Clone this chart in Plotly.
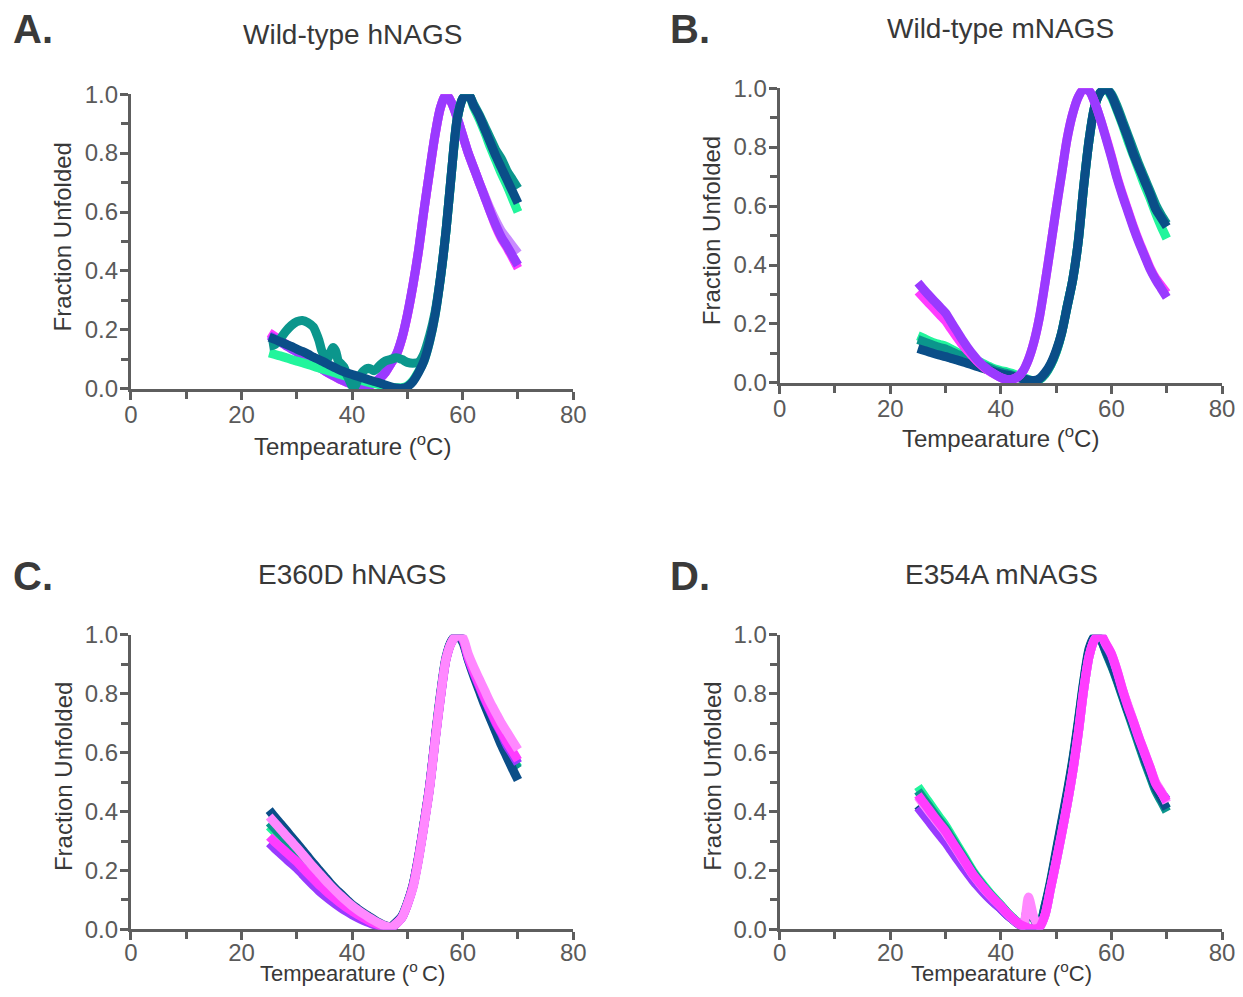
import plotly.graph_objects as go

# ---------------- data ----------------
T = [25, 26, 27, 28, 29, 30, 31, 32, 33, 34,
     35, 36, 37, 38, 39, 40, 41, 42, 43, 44,
     45, 46, 47, 48, 49, 50, 51, 52, 53, 54,
     55, 56, 57, 58, 59, 60, 61, 62, 63, 64,
     65, 66, 67, 68, 69, 70]

# Panel A  - Wild-type hNAGS
A_navy = [.175, .168, .160, .152, .144, .135, .127, .118, .108, .099,
          .090, .080, .071, .062, .055, .049, .043, .037, .031, .025,
          .020, .013, .007, .003, .002, .008, .025, .055, .095, .16,
          .25, .38, .54, .74, .915, .985, 1.0, .96, .925, .88,
          .835, .79, .75, .71, .67, .63]
A_green = [.122, .117, .112, .106, .100, .094, .089, .083, .077, .071,
           .065, .060, .054, .048, .042, .037, .032, .027, .022, .018,
           .014, .010, .006, .004, .004, .010, .028, .058, .095, .16,
           .25, .38, .54, .74, .915, .985, 1.0, .955, .915, .87,
           .82, .775, .73, .69, .645, .60]
A_teal_T = [25, 26, 27, 28, 29, 30, 31, 32, 33, 33.5,
            34, 34.5, 35, 35.5, 36, 36.5, 37, 37.5, 38, 38.5,
            39, 39.5, 40, 40.5, 41, 42, 43, 44, 45, 46,
            47, 48, 49, 50, 51, 52, 53, 54, 55, 56,
            57, 58, 59, 60, 61, 62, 63, 64, 65, 66,
            67, 68, 69, 70]
A_teal = [.145, .150, .170, .195, .215, .228, .232, .225, .210, .190,
          .165, .130, .110, .100, .120, .140, .130, .095, .085, .075,
          .050, .030, .010, .008, .030, .060, .070, .062, .080, .095,
          .100, .106, .100, .090, .087, .090, .120, .180, .26, .38,
          .54, .74, .915, .985, 1.0, .965, .93, .89, .85, .81,
          .78, .74, .71, .68]
A_magenta = [.19, .178, .165, .152, .14, .128, .114, .10, .087, .074,
             .062, .05, .04, .03, .022, .015, .01, .008, .01, .02,
             .035, .055, .085, .115, .17, .25, .35, .466, .605, .735,
             .86, .955, .998, .97, .92, .86, .80, .75, .70, .65,
             .60, .55, .51, .48, .445, .41]
A_violet = [.18, .17, .159, .147, .136, .125, .112, .099, .086, .074,
            .062, .051, .041, .031, .023, .016, .011, .009, .011, .021,
            .036, .056, .086, .117, .172, .252, .352, .468, .607, .737,
            .862, .956, .998, .97, .92, .86, .80, .75, .70, .65,
            .60, .555, .515, .485, .452, .42]
A_lilac = [.185, .173, .161, .149, .137, .126, .113, .10, .087, .075,
           .063, .051, .041, .031, .023, .016, .011, .009, .011, .021,
           .036, .056, .086, .117, .172, .252, .352, .468, .607, .737,
           .862, .956, .998, .97, .92, .86, .80, .75, .70, .655,
           .61, .57, .535, .51, .485, .46]

# Panel B  - Wild-type mNAGS
B_navy = [.117, .111, .105, .099, .094, .089, .083, .078, .072, .066,
          .060, .054, .048, .042, .036, .031, .027, .023, .018, .014,
          .010, .008, .015, .035, .065, .11, .17, .26, .35, .48,
          .67, .83, .94, .985, 1.0, .975, .93, .88, .83, .775,
          .73, .685, .64, .59, .56, .53]
B_teal = [.147, .14, .133, .126, .12, .115, .106, .098, .09, .082,
          .074, .066, .058, .05, .042, .037, .032, .027, .02, .014,
          .008, .005, .012, .03, .06, .105, .17, .26, .35, .48,
          .67, .83, .94, .985, 1.0, .98, .94, .89, .84, .79,
          .74, .695, .65, .605, .57, .54]
B_green = [.16, .152, .143, .135, .13, .125, .115, .105, .097, .089,
           .081, .073, .064, .055, .047, .042, .038, .033, .025, .02,
           .012, .006, .012, .03, .06, .105, .17, .26, .35, .48,
           .67, .83, .94, .985, 1.0, .97, .925, .875, .82, .77,
           .72, .67, .625, .575, .53, .49]
B_magenta = [.31, .29, .27, .25, .23, .21, .183, .156, .13, .108,
             .088, .068, .052, .039, .028, .018, .012, .012, .02, .04,
             .08, .14, .225, .34, .463, .59, .71, .83, .914, .97,
             .997, .99, .95, .895, .835, .77, .70, .64, .585, .53,
             .48, .435, .39, .355, .33, .305]
B_violet = [.34, .318, .297, .277, .257, .237, .207, .177, .147, .12,
            .095, .073, .055, .04, .028, .018, .012, .012, .02, .04,
            .08, .14, .225, .34, .463, .59, .71, .83, .914, .97,
            .997, .99, .95, .895, .83, .765, .695, .635, .58, .525,
            .475, .43, .385, .35, .32, .29]

# Panel C  - E360D hNAGS
C_navy = [.405, .382, .36, .338, .315, .293, .27, .247, .224, .202,
          .18, .158, .138, .12, .102, .084, .07, .057, .045, .033,
          .022, .013, .01, .025, .045, .09, .15, .245, .36, .485,
          .645, .80, .925, .98, .998, .975, .915, .86, .81, .76,
          .715, .67, .625, .585, .545, .507]
C_teal = [.363, .343, .323, .303, .283, .263, .242, .221, .20, .18,
          .16, .141, .123, .106, .09, .075, .061, .049, .038, .028,
          .018, .01, .006, .02, .042, .087, .147, .242, .357, .482,
          .642, .795, .92, .978, .998, .983, .92, .87, .82, .775,
          .73, .69, .65, .61, .575, .546]
C_green = [.35, .331, .312, .293, .274, .255, .235, .215, .195, .176,
           .157, .139, .121, .105, .089, .074, .06, .048, .037, .027,
           .017, .009, .005, .02, .042, .087, .147, .242, .357, .482,
           .642, .795, .92, .978, .998, .983, .92, .87, .82, .775,
           .73, .69, .65, .61, .578, .55]
C_violet = [.293, .275, .258, .241, .224, .208, .188, .168, .149, .131,
            .115, .10, .086, .073, .061, .05, .04, .031, .023, .016,
            .01, .005, .004, .02, .04, .085, .145, .24, .355, .48,
            .64, .79, .918, .975, .998, .985, .92, .87, .825, .78,
            .74, .70, .665, .625, .595, .563]
C_magenta = [.315, .297, .28, .263, .246, .23, .21, .19, .171, .152,
             .135, .118, .103, .088, .074, .062, .05, .04, .03, .021,
             .013, .006, .004, .02, .04, .085, .145, .24, .355, .48,
             .64, .79, .918, .975, .998, .985, .925, .875, .83, .785,
             .745, .705, .67, .635, .605, .574]
C_pink = [.383, .362, .341, .32, .299, .278, .256, .234, .212, .191,
          .17, .15, .131, .113, .096, .08, .066, .053, .041, .03,
          .02, .012, .008, .02, .04, .085, .14, .235, .35, .475,
          .635, .79, .918, .975, .998, .99, .935, .89, .85, .81,
          .77, .735, .70, .67, .64, .61]

# Panel D  - E354A mNAGS
D_green = [.485, .458, .431, .404, .378, .352, .321, .29, .259, .228,
           .197, .171, .147, .124, .103, .083, .061, .042, .025, .013,
           .005, .002, .015, .08, .16, .26, .36, .46, .57, .70,
           .84, .95, .995, .99, .945, .90, .85, .795, .74, .685,
           .63, .575, .525, .475, .44, .41]
D_teal = [.47, .444, .418, .392, .367, .342, .312, .282, .252, .222,
          .192, .166, .142, .12, .10, .081, .06, .041, .024, .012,
          .004, .001, .012, .075, .155, .255, .355, .455, .565, .695,
          .835, .945, .99, .985, .94, .895, .845, .79, .735, .68,
          .625, .57, .52, .47, .435, .40]
D_navy = [.42, .397, .374, .351, .328, .305, .278, .25, .223, .197,
          .171, .148, .126, .106, .088, .071, .052, .036, .021, .011,
          .085, .035, .01, .08, .165, .265, .365, .465, .575, .705,
          .845, .955, .995, .985, .945, .90, .85, .795, .74, .69,
          .635, .58, .53, .48, .445, .41]
D_violet = [.414, .39, .366, .342, .318, .295, .268, .241, .215, .19,
            .165, .143, .122, .103, .086, .07, .052, .036, .021, .011,
            .004, .002, .008, .05, .14, .23, .325, .425, .535, .665,
            .815, .93, .985, 1.0, .965, .93, .875, .81, .755, .70,
            .645, .595, .545, .495, .465, .44]
D_pink = [.45, .425, .40, .376, .352, .328, .299, .27, .241, .213,
          .184, .16, .137, .116, .097, .078, .057, .039, .023, .012,
          .11, .04, .01, .05, .14, .23, .325, .425, .535, .665,
          .815, .93, .985, 1.0, .968, .935, .88, .815, .76, .705,
          .65, .60, .55, .50, .468, .43]
D_magenta = [.457, .431, .406, .381, .357, .333, .303, .274, .245, .215,
             .186, .162, .139, .118, .098, .079, .058, .04, .023, .012,
             .005, .002, .008, .05, .14, .23, .325, .425, .535, .665,
             .815, .93, .985, 1.0, .97, .935, .88, .815, .755, .705,
             .65, .60, .55, .495, .465, .435]

PANEL_LETTERS = ["A.", "B.", "C.", "D."]
PANEL_TITLES = ["Wild-type hNAGS", "Wild-type mNAGS", "E360D hNAGS", "E354A mNAGS"]
X_TITLES = ["Tempearature (<sup>o</sup>C)", "Tempearature (<sup>o</sup>C)",
            "Tempearature (<sup>o </sup>C)", "Tempearature (<sup>o</sup>C)"]
Y_TITLE = "Fraction Unfolded"
X_TICKS = [0, 20, 40, 60, 80]
Y_TICKS = [0.0, 0.2, 0.4, 0.6, 0.8, 1.0]

# ---------------- styling ----------------
GREEN = "#22F59C"
TEAL = "#0B968C"
NAVY = "#0A4E88"
MAGENTA = "#FF3CFF"
VIOLET = "#9A3AFF"
LILAC = "#C98BFF"
PINK = "#FF88FF"
AXC = "#5E5E5E"
TICKC = "#5A5A5A"
TEXTC = "#383838"
FONT = "Liberation Sans, Arial, sans-serif"
W, H = 1243, 997
# the capture shows the page slightly inset; compensate (measured from earlier renders)
SX, OX = 0.9843, 6.0
SY, OY = 0.9737, 13.8

panels = [
    ("x", "y", [(T, A_lilac, LILAC), (T, A_magenta, MAGENTA), (T, A_violet, VIOLET),
                (T, A_green, GREEN), (A_teal_T, A_teal, TEAL), (T, A_navy, NAVY)]),
    ("x2", "y2", [(T, B_green, GREEN), (T, B_teal, TEAL), (T, B_navy, NAVY),
                  (T, B_magenta, MAGENTA), (T, B_violet, VIOLET)]),
    ("x3", "y3", [(T, C_green, GREEN), (T, C_teal, TEAL), (T, C_navy, NAVY),
                  (T, C_violet, VIOLET), (T, C_magenta, MAGENTA), (T, C_pink, PINK)]),
    ("x4", "y4", [(T, D_green, GREEN), (T, D_teal, TEAL), (T, D_navy, NAVY),
                  (T, D_violet, VIOLET), (T, D_pink, PINK), (T, D_magenta, MAGENTA)]),
]

# target pixel boxes in the picture (left, right, top, bottom)
boxes = [(130, 572.5, 94, 389), (779, 1221.5, 88, 383),
         (130, 572.5, 635, 930), (779, 1221.5, 635, 930)]
letter_pos = [(13, 29), (670, 29), (13, 576), (670, 576)]
title_pos = [(352, 34), (1000, 28), (351, 575), (1001, 575)]
xtitle_pos = [(352, 445), (1000, 437), (352, 984), (1001, 981)]
xtitle_size = [24, 24, 22, 22]
xlabel_standoff = [-6, -6, -8, -8]
ytitle_pos = [(62, 236.5), (711, 230.5), (62, 776.5), (711, 776.5)]

fig = go.Figure()
for (xa, ya, series) in panels:
    for (xs, ys, col) in series:
        fig.add_trace(go.Scatter(
            x=xs, y=ys, xaxis=xa, yaxis=ya, mode="lines",
            line=dict(color=col, width=9, shape="spline", smoothing=0.8),
            cliponaxis=False, showlegend=False, hoverinfo="skip"))


def px_x(p, shift=0.0):
    return ((p - OX) / SX + shift) / W


def px_y(p, limit=H):
    return 1 - min((p - OY) / SY, limit) / H


layout = dict(width=W, height=H, margin=dict(l=0, r=0, t=0, b=0, pad=0),
              paper_bgcolor="white", plot_bgcolor="white",
              font=dict(family=FONT, color=TEXTC), showlegend=False)

annotations = []
for i, (l, r, t, b) in enumerate(boxes):
    n = "" if i == 0 else str(i + 1)
    common = dict(showline=True, linecolor=AXC, linewidth=3, ticks="outside",
                  ticklen=8, tickwidth=2.5, tickcolor=AXC, showgrid=False,
                  zeroline=False, layer="below traces", fixedrange=True,
                  tickfont=dict(family=FONT, size=24, color=TICKC))
    layout["xaxis" + n] = dict(common, domain=[px_x(l), px_x(r)], anchor="y" + n,
                               range=[0, 80], tickvals=X_TICKS,
                               ticklabelstandoff=xlabel_standoff[i],
                               minor=dict(dtick=10, tick0=0, ticks="outside", ticklen=7,
                                          tickwidth=2.5, tickcolor=AXC, showgrid=False))
    layout["yaxis" + n] = dict(common, domain=[px_y(b), px_y(t)], anchor="x" + n,
                               range=[0, 1], tickvals=Y_TICKS, tickformat=".1f",
                               ticklabelstandoff=-3,
                               minor=dict(dtick=0.1, tick0=0, ticks="outside", ticklen=7,
                                          tickwidth=2.5, tickcolor=AXC, showgrid=False))
    lx, ly = letter_pos[i]
    annotations.append(dict(text="<b>" + PANEL_LETTERS[i] + "</b>", x=px_x(lx, -3), y=px_y(ly),
                            xref="paper", yref="paper", xanchor="left", yanchor="middle",
                            showarrow=False, font=dict(family=FONT, size=40, color="#3A3A3A")))
    tx, ty = title_pos[i]
    annotations.append(dict(text=PANEL_TITLES[i], x=px_x(tx), y=px_y(ty),
                            xref="paper", yref="paper", xanchor="center", yanchor="middle",
                            showarrow=False, font=dict(family=FONT, size=28, color=TEXTC)))
    xx, xy = xtitle_pos[i]
    annotations.append(dict(text=X_TITLES[i], x=px_x(xx), y=px_y(xy, H - 12),
                            xref="paper", yref="paper", xanchor="center", yanchor="middle",
                            showarrow=False, borderpad=0,
                            font=dict(family=FONT, size=xtitle_size[i], color=TEXTC)))
    yx, yy = ytitle_pos[i]
    annotations.append(dict(text=Y_TITLE, x=px_x(yx), y=px_y(yy),
                            xref="paper", yref="paper", textangle=-90,
                            xanchor="center", yanchor="middle", showarrow=False,
                            font=dict(family=FONT, size=24, color=TEXTC)))

layout["annotations"] = annotations
fig.update_layout(**layout)

fig.write_html("out.html", config={"displayModeBar": False},
               post_script="document.body.style.margin='0px';")
